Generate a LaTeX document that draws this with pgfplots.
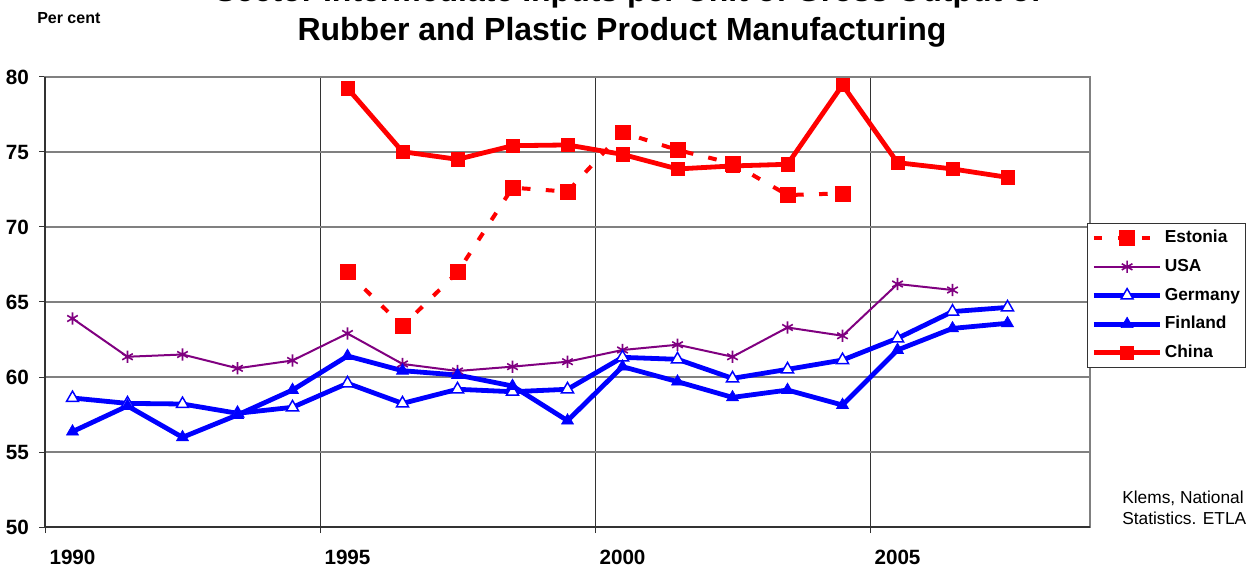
\documentclass[border=0pt]{standalone}
\usepackage{pgfplots}
\pgfplotsset{compat=1.18}
\usepackage{fontspec}
\setmainfont{Liberation Sans}
\definecolor{usapurple}{RGB}{128,0,128}
\definecolor{gridgray}{RGB}{128,128,128}
\definecolor{pblue}{RGB}{0,0,255}
\definecolor{pred}{RGB}{255,0,0}

\begin{document}
\begin{tikzpicture}[x=0.75pt,y=0.75pt]
\useasboundingbox (0,0) rectangle (1252,568);
\begin{axis}[
  at={(33.75pt,30.75pt)}, anchor=south west,
  scale only axis, width=783.75pt, height=337.5pt,
  xmin=1989.5, xmax=2008.5, ymin=50, ymax=80,
  xtick={1989.5,1994.5,1999.5,2004.5},
  xticklabels={1990,1995,2000,2005},
  x tick label style={xshift=20.625pt, yshift=-9pt},
  y tick label style={xshift=-4pt},
  ytick={50,55,...,80},
  tick align=outside, xtick pos=bottom, ytick pos=left,
  major tick length=4.5pt,
  tick style={black!80, line width=0.75pt},
  xmajorgrids, ymajorgrids,
  major x grid style={black!80, line width=0.75pt},
  major y grid style={gridgray, line width=1pt},
  axis line style={gridgray, line width=1.2pt},
  ticklabel style={font=\fontsize{15.5}{15.5}\selectfont\bfseries},
  /pgf/number format/assume math mode=true,
  clip=false,
  legend style={at={(0.997,0.6756)}, anchor=north west, draw=black!80, line width=0.75pt,
    font=\fontsize{13}{13}\selectfont\bfseries, row sep=6.5pt, inner xsep=3pt, inner ysep=3.5pt,
    nodes={inner sep=1.5pt, text height=9.5pt, text depth=2.5pt}},
  legend cell align=left,
  legend image code/.code={\draw[mark repeat=2,mark phase=2,#1] plot coordinates {(0pt,0pt) (25pt,0pt) (50pt,0pt)};},
]
\addplot[pred, line width=3pt, dash pattern=on 6.5pt off 11.5pt, mark=square*, mark size=5.6pt, mark options={solid, line width=0.5pt}] coordinates {
(1995,66.98)(1996,63.4)(1997,66.98)(1998,72.62)(1999,72.36)(2000,76.31)(2001,75.13)(2002,74.24)(2003,72.13)(2004,72.24)};
\addlegendentry{Estonia}
\addplot[usapurple, line width=1.5pt, mark=asterisk, mark size=4.6pt, mark options={line width=1.2pt}] coordinates {
(1990,63.9)(1991,61.35)(1992,61.5)(1993,60.58)(1994,61.1)(1995,62.9)(1996,60.87)(1997,60.4)(1998,60.69)(1999,61.02)(2000,61.8)(2001,62.15)(2002,61.35)(2003,63.3)(2004,62.75)(2005,66.2)(2006,65.8)};
\addlegendentry{USA}
\addplot[pblue, line width=3.6pt, mark=triangle*, mark size=5.2pt, mark options={fill=white, line width=1.1pt}] coordinates {
(1990,58.6)(1991,58.24)(1992,58.2)(1993,57.58)(1994,57.98)(1995,59.58)(1996,58.24)(1997,59.18)(1998,59.02)(1999,59.18)(2000,61.31)(2001,61.18)(2002,59.91)(2003,60.51)(2004,61.13)(2005,62.58)(2006,64.36)(2007,64.64)};
\addlegendentry{Germany}
\addplot[pblue, line width=3.6pt, mark=triangle*, mark size=5.2pt, mark options={line width=0.5pt}] coordinates {
(1990,56.36)(1991,58.07)(1992,55.98)(1993,57.47)(1994,59.13)(1995,61.4)(1996,60.42)(1997,60.13)(1998,59.4)(1999,57.09)(2000,60.69)(2001,59.69)(2002,58.64)(2003,59.13)(2004,58.13)(2005,61.8)(2006,63.24)(2007,63.58)};
\addlegendentry{Finland}
\addplot[pred, line width=3.6pt, mark=square*, mark size=5pt, mark options={line width=0.5pt}] coordinates {
(1995,79.25)(1996,75.02)(1997,74.51)(1998,75.42)(1999,75.47)(2000,74.84)(2001,73.87)(2002,74.07)(2003,74.18)(2004,79.47)(2005,74.29)(2006,73.87)(2007,73.31)};
\addlegendentry{China}
\draw[black!80, line width=1.4pt] (rel axis cs:0,1) -- (rel axis cs:0,0) -- (rel axis cs:1,0);
\end{axis}
\node[anchor=base, inner sep=0, font=\fontsize{24}{24}\selectfont\bfseries] at (622,527) {Rubber and Plastic Product Manufacturing};
\node[anchor=base, inner sep=0, font=\fontsize{24}{24}\selectfont\bfseries] at (628,566) {Sector Intermediate Inputs per Unit of Gross Output of};
\node[anchor=base west, inner sep=0, font=\fontsize{12}{12}\selectfont\bfseries] at (37,544) {Per cent};
\node[anchor=base west, inner sep=0, font=\fontsize{13}{13}\selectfont] at (1122,65) {Klems, National};
\node[anchor=base west, inner sep=0, font=\fontsize{13}{13}\selectfont] at (1122,44) {Statistics. ETLA};
\end{tikzpicture}
\end{document}
